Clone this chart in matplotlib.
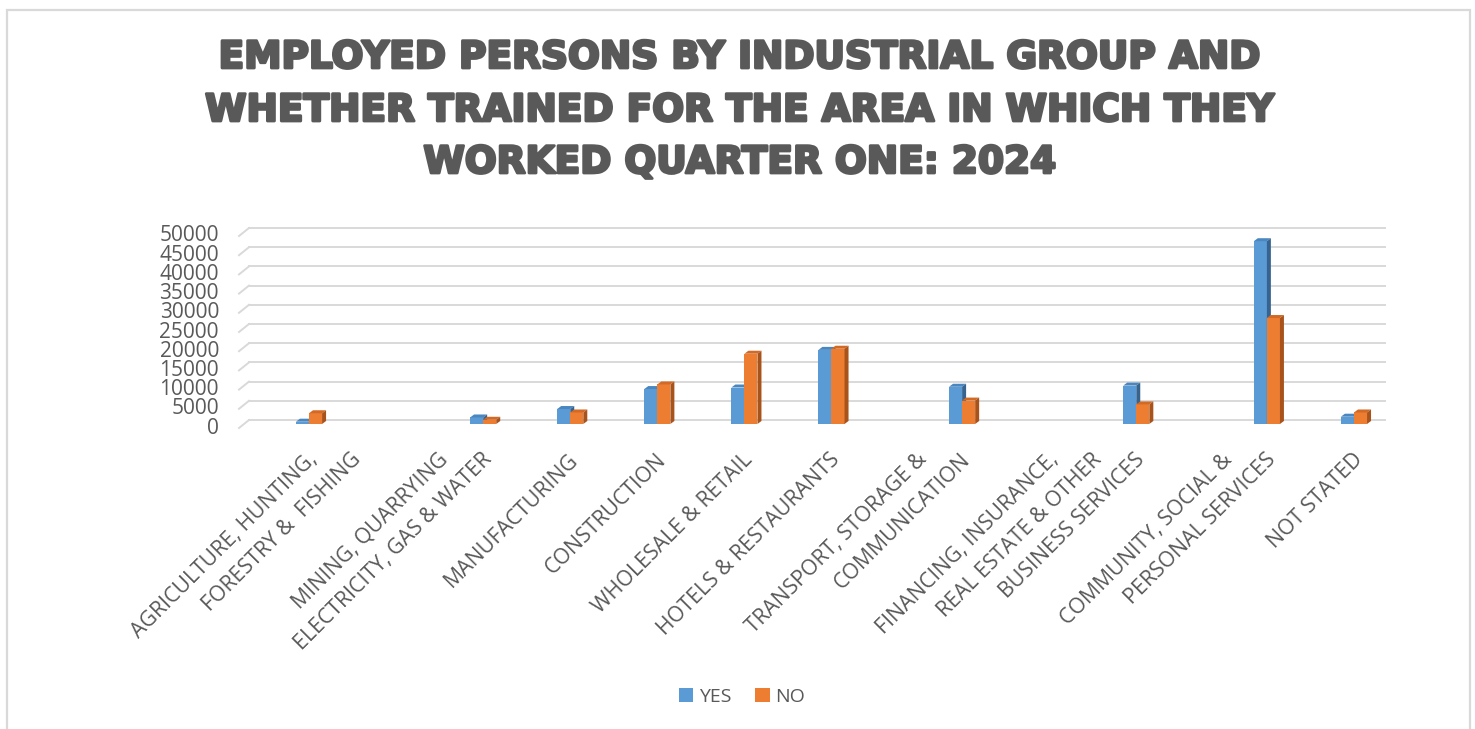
import numpy as np
import matplotlib
matplotlib.use("Agg")
import matplotlib.pyplot as plt
from matplotlib.patches import Polygon, Patch, Rectangle
from matplotlib.lines import Line2D
from matplotlib.transforms import IdentityTransform
import matplotlib.patheffects as pe

# ---------------- data ----------------
title_lines = [
    "EMPLOYED PERSONS BY INDUSTRIAL GROUP AND",
    "WHETHER TRAINED FOR THE AREA IN WHICH THEY",
    "WORKED QUARTER ONE: 2024",
]
categories = [
    "AGRICULTURE, HUNTING,", "FORESTRY &  FISHING", "",
    "MINING, QUARRYING", "ELECTRICITY, GAS & WATER", "",
    "MANUFACTURING", "", "CONSTRUCTION", "", "WHOLESALE & RETAIL", "",
    "HOTELS & RESTAURANTS", "", "TRANSPORT, STORAGE &", "COMMUNICATION", "",
    "FINANCING, INSURANCE,", "REAL ESTATE & OTHER", "BUSINESS SERVICES", "",
    "COMMUNITY, SOCIAL &", "PERSONAL SERVICES", "", "NOT STATED",
]
nan = np.nan
yes_values = [600, nan, nan, nan, 1700, nan, 3900, nan, 9100, nan, 9500, nan,
              19300, nan, nan, 9700, nan, nan, nan, 10000, nan, nan, 47600, nan, 1900]
no_values = [2800, nan, nan, nan, 1100, nan, 3000, nan, 10300, nan, 18300, nan,
             19600, nan, nan, 6100, nan, nan, nan, 5100, nan, nan, 27600, nan, 3000]
series_names = ["YES", "NO"]
y_ticks = [0, 5000, 10000, 15000, 20000, 25000, 30000, 35000, 40000, 45000, 50000]

# ---------------- style ----------------
W, H, DPI = 1475, 729, 100
TXT = "#595959"
GRID = "#d9d9d9"
front_cols = ["#5b9bd5", "#ed7d31"]
top_cols = ["#4a86bf", "#d26a26"]
side_cols = ["#36648f", "#a9531c"]
FONT = "Open Sans"

fig = plt.figure(figsize=(W / DPI, H / DPI), dpi=DPI)
fig.patch.set_facecolor("white")

# chart border
fig.add_artist(Rectangle((7 / W, -0.05), (1470 - 7) / W, (H - 9.5) / H + 0.05,
                         transform=fig.transFigure, fill=False,
                         edgecolor=GRID, linewidth=1.6))

# axes in the bar (mid-depth) plane, pixel layout
ax_left, ax_right, ax_bot, ax_top = 244, 1380, 424, 232
ax = fig.add_axes([ax_left / W, 1 - ax_bot / H, (ax_right - ax_left) / W,
                   (ax_bot - ax_top) / H])
ax.set_facecolor("none")
for s in ax.spines.values():
    s.set_visible(False)
ax.set_xticks([])
ax.set_yticks([])
slot_px = 43.54
x0_lim = -(309 - ax_left) / slot_px
ax.set_xlim(x0_lim, x0_lim + (ax_right - ax_left) / slot_px)
ax.set_ylim(0, y_ticks[-1])

fig.canvas.draw()
td = ax.transData
idt = IdentityTransform()
xl0, xl1 = ax.get_xlim()

# back-wall gridlines with left-wall stubs, and y tick labels
bdx, bdy = 5, 4
for v in y_ticks:
    p0 = td.transform((xl0, v))
    p1 = td.transform((xl1, v))
    gx0, gy = p0[0] + bdx, p0[1] + bdy
    gx1 = p1[0] + bdx
    ax.add_line(Line2D([gx0, gx1], [gy, gy], color=GRID, lw=1.4,
                       transform=idt, clip_on=False, zorder=1))
    ax.add_line(Line2D([gx0, gx0 - 10], [gy, gy - 8], color=GRID, lw=1.4,
                       transform=idt, clip_on=False, zorder=1))
    ax.text(219, gy - 8, f"{v}", transform=idt, ha="right", va="center",
            fontsize=15, color=TXT, family=FONT)

# bars with 3D faces
x = np.arange(len(categories))
bw = 0.30
ddx, ddy = 4, 3
for k, vals in enumerate([yes_values, no_values]):
    vals = np.array(vals, dtype=float)
    xs = x - bw if k == 0 else x
    z = 3 + k
    ax.bar(xs, np.nan_to_num(vals), width=bw, align="edge",
           color=front_cols[k], zorder=z, linewidth=0)
    for xi, v in zip(xs, vals):
        if np.isnan(v):
            continue
        tl = td.transform((xi, v))
        tr = td.transform((xi + bw, v))
        br = td.transform((xi + bw, 0))
        top = [tl, tr, tr + (ddx, ddy), tl + (ddx, ddy)]
        side = [br, tr, tr + (ddx, ddy), br + (ddx, ddy)]
        ax.add_patch(Polygon(top, closed=True, facecolor=top_cols[k],
                             edgecolor="none", transform=idt, clip_on=False, zorder=z))
        ax.add_patch(Polygon(side, closed=True, facecolor=side_cols[k],
                             edgecolor="none", transform=idt, clip_on=False, zorder=z))

# category labels (rotated 45 deg)
for xi, lab in zip(x, categories):
    if not lab:
        continue
    p = td.transform((xi, 0))
    ax.text(p[0] - 2, H - 449, lab, transform=idt, rotation=45,
            rotation_mode="anchor", ha="right", va="top",
            fontsize=15.3, color=TXT, family=FONT)

# title
title_y = [58, 111, 163]
for line, yy in zip(title_lines, title_y):
    fig.text(740 / W, 1 - yy / H, line, ha="center", va="center",
             fontsize=27, fontweight="bold", color=TXT, family="DejaVu Sans",
             path_effects=[pe.withStroke(linewidth=2.0, foreground=TXT)])

# legend
handles = [Patch(facecolor=front_cols[i], edgecolor="none", label=series_names[i])
           for i in range(2)]
leg = fig.legend(handles=handles, loc="center", bbox_to_anchor=(742 / W, 1 - 697 / H),
                 ncol=2, frameon=False, handlelength=0.75,
                 handleheight=0.75, handletextpad=0.3, columnspacing=1.2,
                 prop={"family": FONT, "size": 14})
for t in leg.get_texts():
    t.set_color(TXT)

fig.savefig("out.png", dpi=DPI)
